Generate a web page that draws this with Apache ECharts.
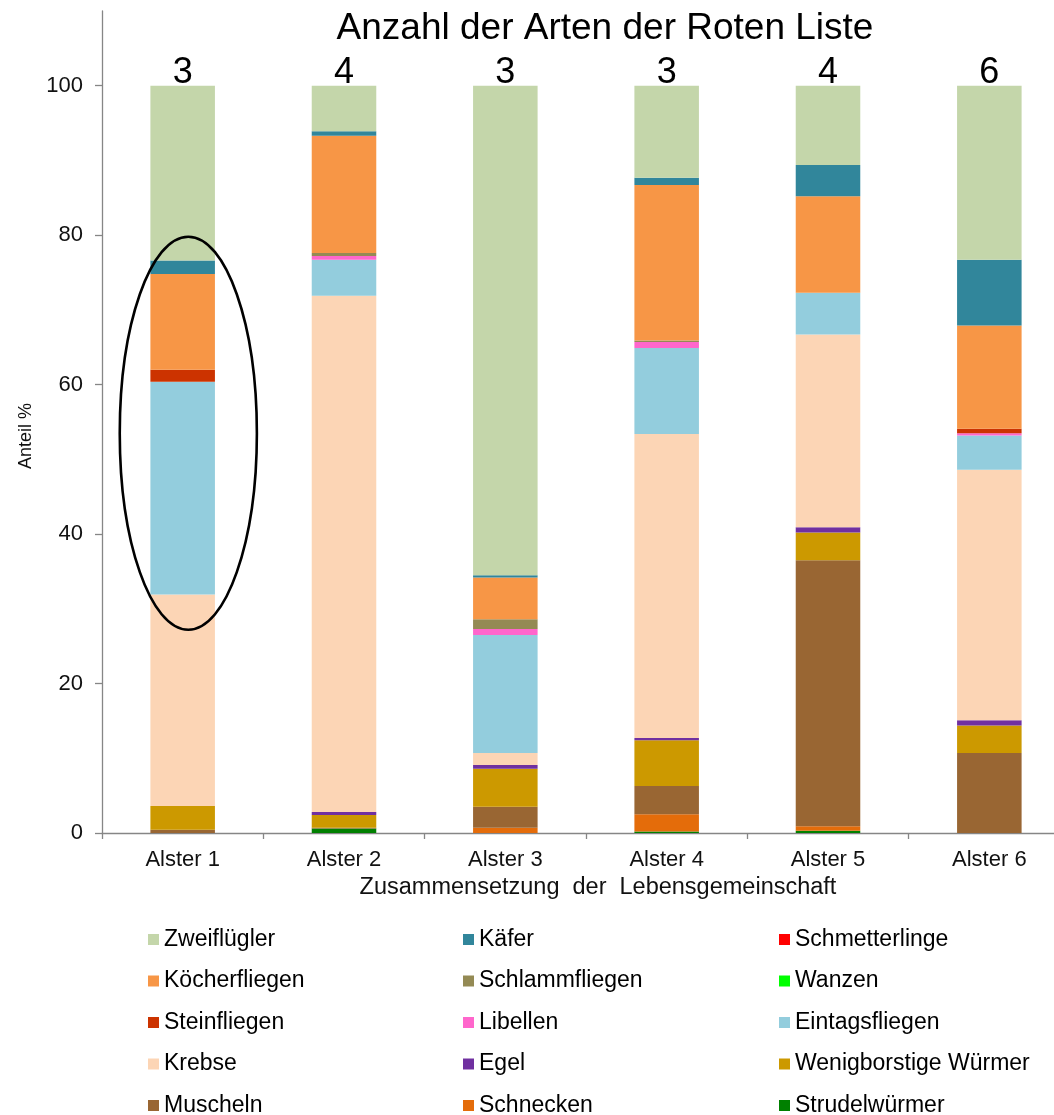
<!DOCTYPE html>
<html>
<head>
<meta charset="utf-8">
<script src="https://cdn.jsdelivr.net/npm/echarts@6/dist/echarts.min.js"></script>
<style>
  html, body { margin: 0; padding: 0; background: #fff; }
  #chart { width: 1054px; height: 1115px; }
</style>
</head>
<body>
<div id="chart"></div>
<script>
// Probestellen an der Alster
const sites = ['Alster 1', 'Alster 2', 'Alster 3', 'Alster 4', 'Alster 5', 'Alster 6'];

// Anzahl der Arten der Roten Liste je Probestelle
const redListCounts = [3, 4, 3, 3, 4, 6];

// Anteile (%) der Tiergruppen, von unten nach oben gestapelt
const strudelwuermer = [0, 0.6, 0, 0.2, 0.3, 0];
const schnecken      = [0, 0, 0.7, 2.3, 0.6, 0];
const muscheln       = [0.45, 0.1, 2.8, 3.8, 35.6, 10.7];
const wenigborstige  = [3.15, 1.7, 5.1, 6.1, 3.7, 3.7];
const egel           = [0, 0.4, 0.5, 0.3, 0.7, 0.7];
const krebse         = [28.3, 69.1, 1.6, 40.7, 25.8, 33.5];
const eintagsfliegen = [28.5, 4.8, 15.8, 11.5, 5.6, 4.6];
const libellen       = [0, 0.5, 0.8, 0.8, 0, 0.3];
const steinfliegen   = [1.6, 0, 0, 0, 0, 0.6];
const wanzen         = [0, 0, 0, 0, 0, 0];
const schlammfliegen = [0, 0.4, 1.3, 0.2, 0, 0];
const koecherfliegen = [12.8, 15.7, 5.6, 20.8, 12.9, 13.8];
const schmetterlinge = [0, 0, 0, 0, 0, 0];
const kaefer         = [1.8, 0.6, 0.3, 1.0, 4.2, 8.8];
const zweifluegler   = [23.4, 6.1, 65.5, 12.3, 10.6, 23.3];

// y-Achse
const yTicks = [0, 20, 40, 60, 80, 100];

const groups = [
  { name: 'Strudelwürmer',        data: strudelwuermer, color: '#008000' },
  { name: 'Schnecken',            data: schnecken,      color: '#E46C0A' },
  { name: 'Muscheln',             data: muscheln,       color: '#996633' },
  { name: 'Wenigborstige Würmer', data: wenigborstige,  color: '#CC9900' },
  { name: 'Egel',                 data: egel,           color: '#7030A0' },
  { name: 'Krebse',               data: krebse,         color: '#FCD5B5' },
  { name: 'Eintagsfliegen',       data: eintagsfliegen, color: '#93CDDD' },
  { name: 'Libellen',             data: libellen,       color: '#FF66CC' },
  { name: 'Steinfliegen',         data: steinfliegen,   color: '#CC3300' },
  { name: 'Wanzen',               data: wanzen,         color: '#00FF00' },
  { name: 'Schlammfliegen',       data: schlammfliegen, color: '#948A54' },
  { name: 'Köcherfliegen',        data: koecherfliegen, color: '#F79646' },
  { name: 'Schmetterlinge',       data: schmetterlinge, color: '#FF0000' },
  { name: 'Käfer',                data: kaefer,         color: '#31869B' },
  { name: 'Zweiflügler',          data: zweifluegler,   color: '#C4D6AA' }
];

// Legende in drei Spalten
const legendColumns = [
  ['Zweiflügler', 'Köcherfliegen', 'Steinfliegen', 'Krebse', 'Muscheln'],
  ['Käfer', 'Schlammfliegen', 'Libellen', 'Egel', 'Schnecken'],
  ['Schmetterlinge', 'Wanzen', 'Eintagsfliegen', 'Wenigborstige Würmer', 'Strudelwürmer']
];
const legendLeft = [143, 458, 774];

const FONT = 'Liberation Sans, Arial, sans-serif';
const TEXT = '#111';
const AXIS = '#868686';

const chart = echarts.init(document.getElementById('chart'), null, { renderer: 'canvas' });

const series = groups.map((g, i) => ({
  name: g.name,
  type: 'bar',
  stack: 'anteil',
  barWidth: '40%',
  data: g.data,
  itemStyle: { color: g.color },
  emphasis: { disabled: true },
  label: i === groups.length - 1 ? {
    show: true,
    position: 'top',
    distance: -5,
    fontFamily: FONT,
    fontSize: 36,
    color: '#000',
    formatter: p => String(redListCounts[p.dataIndex])
  } : { show: false }
}));

const legends = legendColumns.map((col, c) => ({
  orient: 'vertical',
  left: legendLeft[c],
  top: 923,
  height: 240,
  itemWidth: 11,
  itemHeight: 11,
  itemGap: 18.5,
  icon: 'rect',
  selectedMode: false,
  data: col,
  textStyle: { fontFamily: FONT, fontSize: 23, lineHeight: 23, color: '#000' }
}));

chart.setOption({
  animation: false,
  backgroundColor: '#fff',
  title: {
    text: 'Anzahl der Arten der Roten Liste',
    left: 600,
    top: 5,
    textAlign: 'center',
    textStyle: { fontFamily: FONT, fontSize: 37, fontWeight: 'normal', color: '#000' }
  },
  legend: legends,
  grid: { left: 102, right: -16, top: 11, bottom: 282, outerBoundsMode: 'none', containLabel: false },
  xAxis: {
    type: 'category',
    data: sites,
    name: 'Zusammensetzung  der  Lebensgemeinschaft',
    nameLocation: 'middle',
    nameGap: 43,
    nameTextStyle: { fontFamily: FONT, fontSize: 23.5, color: TEXT, padding: [0, 0, 0, 24] },
    axisLine: { lineStyle: { color: AXIS, width: 1.3 } },
    axisTick: { show: true, length: 6, alignWithLabel: false, lineStyle: { color: AXIS, width: 1.3 } },
    axisLabel: { fontFamily: FONT, fontSize: 22, color: TEXT, margin: 16 },
    splitLine: { show: false }
  },
  yAxis: {
    type: 'value',
    min: 0,
    max: 110,
    interval: 20,
    name: 'Anteil %',
    nameLocation: 'middle',
    nameGap: 66,
    nameRotate: 90,
    nameTextStyle: { fontFamily: FONT, fontSize: 18, color: TEXT, padding: [0, 28, 0, 0] },
    axisLine: { show: true, lineStyle: { color: AXIS, width: 1.3 } },
    axisTick: { show: true, inside: false, length: 7, customValues: yTicks, lineStyle: { color: AXIS, width: 1.3 } },
    axisLabel: { fontFamily: FONT, fontSize: 22, color: TEXT, margin: 19, customValues: yTicks },
    splitLine: { show: false }
  },
  series: series
});

// Markierung um die Lebensgemeinschaft an Alster 1
const c0 = chart.convertToPixel({ xAxisIndex: 0, yAxisIndex: 0 }, ['Alster 1', 53.5]);
const c1 = chart.convertToPixel({ xAxisIndex: 0, yAxisIndex: 0 }, ['Alster 2', 53.5]);
const yTop = chart.convertToPixel({ yAxisIndex: 0 }, 79.8);
const yBot = chart.convertToPixel({ yAxisIndex: 0 }, 27.2);
const band = c1[0] - c0[0];
chart.setOption({
  graphic: [{
    type: 'ellipse',
    shape: {
      cx: c0[0] + band * 0.035,
      cy: (yTop + yBot) / 2,
      rx: band * 0.425,
      ry: (yBot - yTop) / 2
    },
    style: { fill: 'none', stroke: '#000', lineWidth: 2.6 },
    silent: true,
    z: 100
  }]
});
</script>
</body>
</html>
